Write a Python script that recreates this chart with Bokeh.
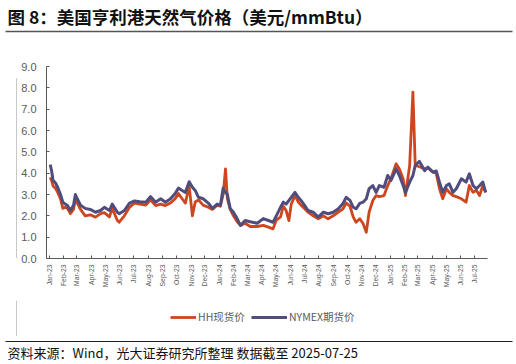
from datetime import datetime
from math import pi
import pandas as pd
from bokeh.plotting import figure
from bokeh.layouts import column, row
from bokeh.models import (Range1d, DatetimeTickFormatter, MonthsTicker, Legend, LegendItem,
                          Label, BoxAnnotation, FixedTicker, PrintfTickFormatter, ColumnDataSource)
from bokeh.embed import file_html
from bokeh.resources import INLINE

# ---------------- data ----------------
dates = [
    "2023-01-03", "2023-01-06", "2023-01-09", "2023-01-14", "2023-01-19", "2023-01-25", "2023-01-30", "2023-02-04", "2023-02-09", "2023-02-15",
    "2023-02-22", "2023-02-26", "2023-03-02", "2023-03-09", "2023-03-19", "2023-03-30", "2023-04-10", "2023-04-21", "2023-04-29", "2023-05-10",
    "2023-05-16", "2023-05-27", "2023-05-31", "2023-06-11", "2023-06-22", "2023-07-03", "2023-07-14", "2023-07-27", "2023-08-06", "2023-08-17",
    "2023-08-28", "2023-09-07", "2023-09-18", "2023-09-28", "2023-10-05", "2023-10-13", "2023-10-20", "2023-10-28", "2023-11-04", "2023-11-10",
    "2023-11-17", "2023-11-27", "2023-12-08", "2023-12-17", "2023-12-27", "2024-01-03", "2024-01-09", "2024-01-14", "2024-01-18", "2024-01-24",
    "2024-01-31", "2024-02-08", "2024-02-15", "2024-02-25", "2024-03-07", "2024-03-22", "2024-04-04", "2024-04-15", "2024-04-25", "2024-05-02",
    "2024-05-11", "2024-05-17", "2024-05-23", "2024-05-29", "2024-06-03", "2024-06-11", "2024-06-18", "2024-06-24", "2024-07-02", "2024-07-09",
    "2024-07-20", "2024-07-31", "2024-08-11", "2024-08-21", "2024-09-01", "2024-09-12", "2024-09-22", "2024-09-29", "2024-10-07", "2024-10-14",
    "2024-10-20", "2024-10-28", "2024-11-04", "2024-11-11", "2024-11-17", "2024-11-25", "2024-12-02", "2024-12-09", "2024-12-19", "2024-12-27",
    "2025-01-03", "2025-01-14", "2025-01-21", "2025-01-29", "2025-02-03", "2025-02-12", "2025-02-19", "2025-02-24", "2025-03-05", "2025-03-16",
    "2025-03-23", "2025-04-03", "2025-04-10", "2025-04-17", "2025-04-24", "2025-05-02", "2025-05-08", "2025-05-16", "2025-05-23", "2025-06-03",
    "2025-06-13", "2025-06-20", "2025-06-28", "2025-07-05", "2025-07-12", "2025-07-19", "2025-07-25",
]
hh_spot = [
    3.80, 3.65, 3.40, 3.30, 3.10, 2.80, 2.35, 2.40, 2.35, 2.10,
    2.30, 2.80, 2.60, 2.30, 2.00, 2.05, 1.94, 2.10, 2.15, 1.95,
    2.35, 1.78, 1.70, 2.00, 2.40, 2.60, 2.55, 2.50, 2.75, 2.48,
    2.55, 2.48, 2.60, 2.80, 3.05, 2.80, 2.60, 3.40, 2.00, 2.65,
    2.75, 2.50, 2.40, 2.30, 2.50, 2.45, 3.00, 4.20, 2.80, 2.30,
    2.00, 1.72, 1.55, 1.65, 1.50, 1.50, 1.55, 1.47, 1.39, 1.80,
    1.95, 2.45, 2.25, 1.78, 2.55, 2.95, 2.65, 2.50, 2.33, 2.17,
    2.00, 1.86, 2.00, 1.86, 2.00, 2.17, 2.33, 2.60, 2.45, 1.94,
    1.70, 1.86, 1.64, 1.23, 2.17, 2.72, 2.95, 2.90, 2.95, 3.42,
    3.75, 4.44, 4.20, 3.74, 2.95, 4.36, 7.80, 4.36, 4.30, 4.20,
    4.25, 4.05, 4.00, 3.27, 2.80, 3.27, 3.10, 2.95, 2.90, 2.80,
    2.64, 3.42, 3.10, 3.20, 2.95, 3.42, 3.10,
]
nymex_futures = [
    4.40, 4.10, 3.66, 3.55, 3.34, 3.00, 2.64, 2.55, 2.48, 2.25,
    2.50, 3.00, 2.80, 2.50, 2.35, 2.30, 2.17, 2.25, 2.40, 2.25,
    2.55, 2.17, 2.10, 2.25, 2.60, 2.70, 2.66, 2.64, 2.90, 2.64,
    2.80, 2.64, 2.80, 3.05, 3.30, 3.19, 3.10, 3.60, 3.34, 3.19,
    2.87, 2.80, 2.60, 2.35, 2.55, 2.50, 3.30, 3.10, 3.00, 2.35,
    2.17, 1.87, 1.55, 1.78, 1.72, 1.65, 1.87, 1.78, 1.70, 2.00,
    2.40, 2.64, 2.55, 2.72, 2.87, 3.10, 2.87, 2.72, 2.48, 2.25,
    2.17, 1.94, 2.17, 2.10, 2.17, 2.33, 2.58, 2.87, 2.72, 2.40,
    2.33, 2.58, 2.64, 2.80, 3.27, 3.42, 3.10, 3.42, 3.34, 3.89,
    3.66, 4.20, 3.89, 3.42, 3.10, 3.58, 3.89, 4.36, 4.55, 4.12,
    4.28, 4.05, 4.10, 3.58, 3.10, 3.42, 3.50, 3.10, 3.27, 3.74,
    3.58, 3.97, 3.42, 3.27, 3.42, 3.58, 3.10,
]
y_ticks = [0, 1, 2, 3, 4, 5, 6, 7, 8, 9]
series_names = ["HH现货价", "NYMEX期货价"]
title_text = "图 8：美国亨利港天然气价格（美元/mmBtu）"
source_text = "资料来源：Wind，光大证券研究所整理  数据截至 2025-07-25"

RED = "#CE461D"
NAVY = "#4F4D7D"
AX = "#595959"
GREY = "#C8C8C8"
CJK = "Noto Sans CJK SC"


def blank_fig(w, h, y_top, y_bottom):
    """A figure without axes whose frame fills it; y data = page pixel row."""
    f = figure(width=w, height=h, output_backend="svg", toolbar_location=None,
               x_range=Range1d(0, w), y_range=Range1d(y_bottom, y_top),
               x_axis_location=None, y_axis_location=None, min_border=0)
    f.outline_line_color = None
    f.xgrid.grid_line_color = None
    f.ygrid.grid_line_color = None
    f.background_fill_color = "white"
    f.border_fill_color = "white"
    return f


# ---------------- title strip (page rows 0-36) ----------------
ft = blank_fig(516, 36, 0, 36)
ft.add_layout(Label(x=7, y=16, text=title_text, text_font=CJK, text_font_style="bold",
                    text_font_size="17.5px", text_color="#111111", text_baseline="middle", text_align="left"))
ft.add_layout(BoxAnnotation(left=5, right=512, top=30.2, bottom=31.8, fill_color="#555555",
                            fill_alpha=1, line_color=None))

# ---------------- left strip with grey rule (rows 36-300) ----------------
fs = blank_fig(17, 264, 36, 300)
fs.add_layout(BoxAnnotation(left=15.5, right=16.5, top=52, bottom=300, fill_color=GREY,
                            fill_alpha=1, line_color=None))

# ---------------- main chart (rows 36-300) ----------------
src = ColumnDataSource(dict(date=pd.to_datetime(dates), hh=hh_spot, ny=nymex_futures))

p = figure(width=499, height=264, output_backend="svg", toolbar_location=None,
           x_axis_type="datetime",
           x_range=Range1d(datetime(2022, 12, 26), datetime(2025, 7, 29)),
           y_range=Range1d(0, 9),
           min_border_left=29, min_border_right=29, min_border_top=30, min_border_bottom=42)
p.background_fill_color = "white"
p.border_fill_color = "white"
p.outline_line_color = None
p.xgrid.grid_line_color = None
p.ygrid.grid_line_color = None

p.line("date", "hh", source=src, line_color=RED, line_width=2.8, line_join="round")
p.line("date", "ny", source=src, line_color=NAVY, line_width=3.0, line_join="round")

p.xaxis.ticker = MonthsTicker(months=list(range(1, 13)))
fmt = "%b-%y"
p.xaxis.formatter = DatetimeTickFormatter(months=fmt, days=fmt, years=fmt, hours=fmt,
                                          minutes=fmt, seconds=fmt, milliseconds=fmt, microseconds=fmt,
                                          hourmin=fmt, minsec=fmt)
p.xaxis.major_label_orientation = pi / 2
p.xaxis.major_label_text_font = "Liberation Sans"
p.xaxis.major_label_text_font_size = "6.8px"
p.xaxis.major_label_text_color = AX
p.xaxis.major_label_standoff = 6
p.xaxis.major_tick_in = 3
p.xaxis.major_tick_out = 0
p.xaxis.minor_tick_line_color = None
p.xaxis.axis_line_color = AX
p.xaxis.major_tick_line_color = AX

p.yaxis.ticker = FixedTicker(ticks=y_ticks)
p.yaxis.formatter = PrintfTickFormatter(format="%.1f")
p.yaxis.major_label_text_font = "Liberation Sans"
p.yaxis.major_label_text_font_size = "11px"
p.yaxis.major_label_text_color = AX
p.yaxis.major_label_standoff = 10
p.yaxis.major_tick_in = 3
p.yaxis.major_tick_out = 0
p.yaxis.minor_tick_line_color = None
p.yaxis.axis_line_color = AX
p.yaxis.major_tick_line_color = AX

# ---------------- legend strip (rows 300-336) ----------------
fl = blank_fig(516, 36, 300, 336)
fl.add_layout(BoxAnnotation(left=15.5, right=16.5, top=300, bottom=336, fill_color=GREY,
                            fill_alpha=1, line_color=None))
# legend-only renderers (a single NaN point, nothing is drawn in the frame)
leg_src = ColumnDataSource(dict(x=[float("nan")], y=[float("nan")]))
lr_hh = fl.line("x", "y", source=leg_src, line_color=RED, line_width=2.8)
lr_ny = fl.line("x", "y", source=leg_src, line_color=NAVY, line_width=2.8)
for name, rend, x0, gw in [(series_names[0], lr_hh, 170, 26), (series_names[1], lr_ny, 251, 36)]:
    fl.add_layout(Legend(items=[LegendItem(label=name, renderers=[rend])], location=(x0, 12),
                         orientation="horizontal", glyph_width=gw, glyph_height=12, label_height=12,
                         label_standoff=2, padding=0, margin=0, spacing=0,
                         border_line_color=None, background_fill_alpha=0,
                         label_text_font=CJK, label_text_font_size="10.5px", label_text_color=AX))

# ---------------- source strip (rows 336-364) ----------------
fb = blank_fig(516, 28, 336, 364)
fb.add_layout(BoxAnnotation(left=5, right=512, top=340.5, bottom=341.5, fill_color="#222222",
                            fill_alpha=1, line_color=None))
fb.add_layout(Label(x=7, y=352, text=source_text, text_font=CJK, text_font_size="13px",
                    text_color="#111111", text_baseline="middle", text_align="left"))

layout = column(ft, row(fs, p, spacing=0), fl, fb, spacing=0)
open("out.html", "w").write(file_html(layout, INLINE))
